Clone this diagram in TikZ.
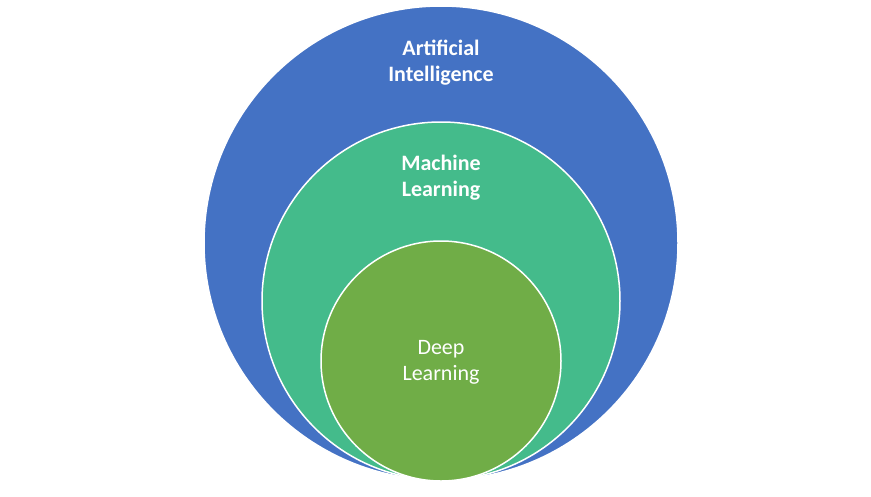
\documentclass[tikz,border=0pt]{standalone}
\usepackage{fontspec}
\setmainfont{Carlito}
\begin{document}
\begin{tikzpicture}[x=1pt,y=-1pt,
  circ/.style={draw=white,line width=1.5pt},
  lab/.style={text=white,align=center,font=\fontsize{22}{26}\selectfont}]
\useasboundingbox (0,0) rectangle (871,496);
\fill[white] (0,0) rectangle (871,496);
\node[circ,circle,fill={rgb,255:red,68;green,114;blue,196},minimum size=474pt,inner sep=0pt] (ai) at (441,243) {};
\node[circ,circle,fill={rgb,255:red,68;green,187;blue,139},minimum size=358pt,inner sep=0pt] (ml) at (441,301) {};
\node[circ,circle,fill={rgb,255:red,112;green,173;blue,71},minimum size=240pt,inner sep=0pt] (dl) at (441,361) {};
\node[lab,font=\fontsize{22}{26}\selectfont\bfseries] (tai) at (441,63) {Artificial\\Intelligence};
\node[lab,font=\fontsize{22}{26}\selectfont\bfseries] (tml) at (441,178) {Machine\\Learning};
\node[lab] (tdl) at (441,362) {Deep\\Learning};
\end{tikzpicture}
\end{document}
